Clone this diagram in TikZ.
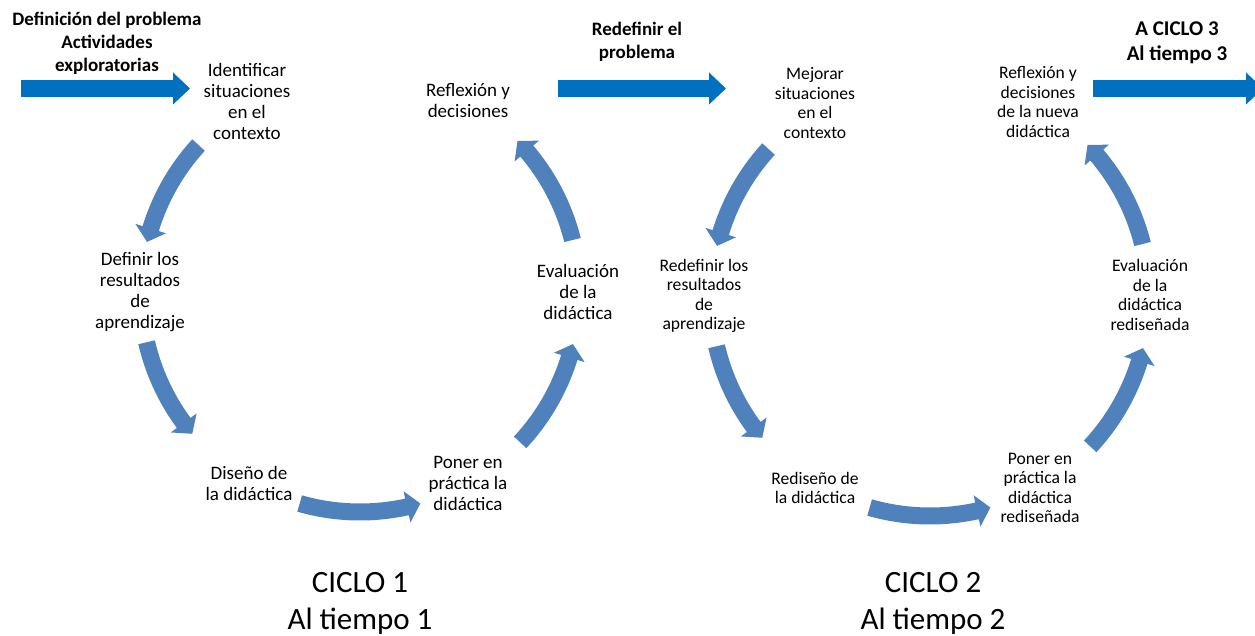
\documentclass[tikz,border=0pt]{standalone}
\usepackage{fontspec}
\setmainfont{Carlito}
\usetikzlibrary{arrows.meta}
\definecolor{cycblue}{HTML}{4F81BD}
\definecolor{topblue}{HTML}{0070C0}
\begin{document}
\begin{tikzpicture}[x=1pt,y=1pt,
  lblA/.style={align=center, inner sep=0pt, font=\fontsize{19}{21}\selectfont},
  lblB/.style={align=center, inner sep=0pt, font=\fontsize{17.6}{19.5}\selectfont},
  hdr/.style={align=center, inner sep=0pt, font=\fontsize{19}{23}\selectfont\bfseries},
  hdrC/.style={align=center, inner sep=0pt, font=\fontsize{21}{25}\selectfont\bfseries},
  bigt/.style={align=center, inner sep=0pt, font=\fontsize{31}{37}\selectfont},
  cyc/.style={fill=cycblue},
  topar/.style={topblue, line width=17pt, -{Triangle[length=17pt,width=32pt,line width=0pt]}},
]
\useasboundingbox (0,0) rectangle (1255,-636);

% ---- top labels and straight arrows
\node[hdr] (def) at (107,-43) {Definición del problema\\Actividades\\exploratorias};
\node[hdr] (redef) at (637,-42) {Redefinir el\\problema};
\node[hdrC] (aciclo) at (1177,-43) {A CICLO 3\\Al tiempo 3};

\coordinate (t1s) at (21,-88.5);   \coordinate (t1e) at (190,-88.5);
\coordinate (t2s) at (558,-88.5);  \coordinate (t2e) at (726,-88.5);
\coordinate (t3s) at (1093,-88.5); \coordinate (t3e) at (1263,-88.5);
\draw[topar] (t1s) -- (t1e);
\draw[topar] (t2s) -- (t2e);
\draw[topar] (t3s) -- (t3e);

% ---- cycle 1
\coordinate (c1) at (360,-293);
\node[lblA] (ident) at (247,-101) {Identificar\\situaciones\\en el\\contexto};
\node[lblA] (refl)  at (468,-101) {Reflexión y\\decisiones};
\node[lblA] (defn)  at (140,-292) {Definir los\\resultados\\de\\aprendizaje};
\node[lblA] (eval)  at (578,-292) {Evaluación\\de la\\didáctica};
\node[lblA] (dise)  at (249,-483) {Diseño de\\la didáctica};
\node[lblA] (pon)   at (468,-483) {Poner en\\práctica la\\didáctica};
\node[bigt] (ciclo1) at (360,-603) {CICLO 1\\Al tiempo 1};

% ---- cycle 2
\coordinate (c2) at (930,-297);
\node[lblB] (mej)   at (815,-103) {Mejorar\\situaciones\\en el\\contexto};
\node[lblB] (refl2) at (1038,-102) {Reflexión y\\decisiones\\de la nueva\\didáctica};
\node[lblB] (redf2) at (704,-296) {Redefinir los\\resultados\\de\\aprendizaje};
\node[lblB] (eval2) at (1150,-295) {Evaluación\\de la\\didáctica\\rediseñada};
\node[lblB] (redis) at (815,-488) {Rediseño de\\la didáctica};
\node[lblB] (pon2)  at (1040,-488) {Poner en\\práctica la\\didáctica\\rediseñada};
\node[bigt] (ciclo2) at (933,-603) {CICLO 2\\Al tiempo 2};

% ---- curved cycle arrows (band + head, around each cycle centre)
\foreach \cc in {c1,c2}{
  \foreach \a/\b in {137.5/166.5, 193/220, 254/286, -43/-13.5, 14/44}{
    \pgfmathsetmacro\bb{\b-3.6}
    \fill[cyc] ([shift={(\a:210.5)}]\cc) arc[start angle=\a, end angle=\bb, radius=210.5]
      -- ([shift={(\bb:203)}]\cc) -- ([shift={(\b:219)}]\cc) -- ([shift={(\bb:235)}]\cc)
      -- ([shift={(\bb:227.5)}]\cc) arc[start angle=\bb, end angle=\a, radius=227.5] -- cycle;
  }
}
\end{tikzpicture}
\end{document}
